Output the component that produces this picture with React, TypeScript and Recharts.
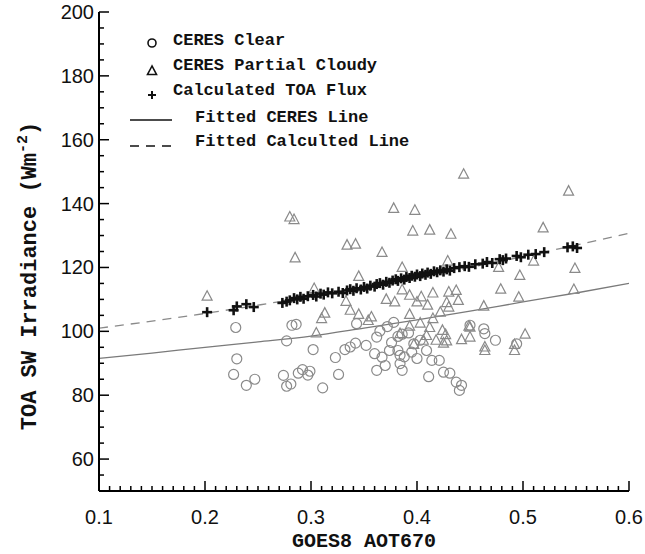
import { ComposedChart, Scatter, Line, XAxis, YAxis } from "recharts";

// CERES clear-sky points [AOT670, flux]
const clearPts: [number, number][] = [
  [0.229, 101.2], [0.230, 91.4], [0.227, 86.5], [0.239, 83.1], [0.247, 85.0],
  [0.277, 97.0], [0.282, 101.9], [0.286, 102.2], [0.274, 86.2], [0.277, 82.8],
  [0.281, 83.5], [0.288, 86.9], [0.292, 88.0], [0.299, 87.5], [0.297, 86.3],
  [0.302, 94.3], [0.311, 82.3], [0.323, 91.8], [0.326, 86.5], [0.332, 94.3],
  [0.337, 95.1], [0.342, 96.3], [0.343, 102.4], [0.352, 95.6], [0.362, 98.2],
  [0.365, 100.1], [0.360, 93.0], [0.367, 91.9], [0.362, 87.8], [0.370, 89.3],
  [0.382, 98.4], [0.386, 99.1], [0.382, 94.0], [0.384, 92.5], [0.384, 89.9],
  [0.386, 87.8], [0.397, 96.1], [0.403, 97.2], [0.409, 94.0], [0.414, 90.9],
  [0.421, 90.9], [0.411, 85.8], [0.425, 87.2], [0.431, 86.9], [0.437, 84.1],
  [0.442, 83.1], [0.440, 81.5], [0.463, 100.8], [0.464, 99.3], [0.474, 97.2],
  [0.494, 96.1], [0.450, 101.9], [0.374, 94.0], [0.388, 92.0], [0.395, 93.5],
  [0.400, 91.5], [0.376, 96.5], [0.392, 99.5], [0.372, 101.5], [0.378, 102.8],
];

// CERES partly cloudy points
const cloudyPts: [number, number][] = [
  [0.202, 111.0], [0.280, 135.8], [0.284, 135.0], [0.285, 123.0], [0.334, 127.0],
  [0.342, 127.3], [0.345, 117.2], [0.333, 109.4], [0.337, 106.6], [0.345, 105.3],
  [0.354, 103.4], [0.357, 104.5], [0.313, 105.7], [0.310, 104.0], [0.305, 99.5],
  [0.303, 113.4], [0.444, 149.2], [0.543, 143.9], [0.378, 138.5], [0.398, 137.9],
  [0.396, 131.4], [0.412, 131.7], [0.432, 130.4], [0.519, 132.4], [0.367, 124.7],
  [0.386, 120.0], [0.429, 122.0], [0.510, 122.0], [0.549, 119.7], [0.477, 120.0],
  [0.497, 117.5], [0.479, 113.2], [0.548, 113.1], [0.496, 110.7], [0.463, 107.9],
  [0.371, 110.0], [0.379, 109.2], [0.393, 111.3], [0.404, 110.8], [0.415, 112.0],
  [0.430, 112.3], [0.437, 112.8], [0.439, 109.7], [0.393, 105.3], [0.400, 109.2],
  [0.410, 108.2], [0.415, 104.0], [0.422, 106.0], [0.428, 109.0], [0.393, 101.6],
  [0.403, 102.6], [0.412, 101.2], [0.424, 100.3], [0.427, 99.0], [0.502, 99.1],
  [0.450, 101.3], [0.425, 96.3], [0.449, 101.6], [0.450, 98.2], [0.442, 97.4],
  [0.464, 95.1], [0.464, 94.0], [0.492, 95.9], [0.492, 94.0], [0.384, 99.3],
  [0.397, 95.9], [0.409, 98.7], [0.406, 97.2], [0.418, 97.2], [0.428, 97.0],
  [0.430, 107.6], [0.386, 113.0],
];

// calculated TOA flux
const calcPts: [number, number][] = [
  [0.202, 106.0], [0.227, 106.6], [0.230, 107.8], [0.239, 108.5], [0.246, 107.6],
  [0.273, 108.9], [0.277, 109.3], [0.280, 109.7], [0.284, 110.4], [0.287, 110.0],
  [0.290, 110.8], [0.293, 110.2], [0.297, 111.0], [0.302, 111.4], [0.305, 110.9],
  [0.309, 111.8], [0.312, 111.5], [0.316, 112.2], [0.320, 111.9], [0.326, 112.4],
  [0.330, 112.0], [0.334, 112.8], [0.337, 113.2], [0.340, 112.7], [0.343, 113.5],
  [0.347, 113.1], [0.350, 113.9], [0.353, 113.4], [0.356, 114.3], [0.360, 114.0],
  [0.362, 114.8], [0.365, 115.1], [0.368, 114.6], [0.371, 115.5], [0.374, 115.2],
  [0.377, 115.9], [0.380, 116.3], [0.382, 115.8], [0.385, 116.6], [0.388, 116.2],
  [0.390, 117.0], [0.393, 116.7], [0.395, 117.4], [0.398, 117.1], [0.400, 117.8],
  [0.403, 117.3], [0.405, 118.1], [0.408, 117.7], [0.410, 118.4], [0.413, 118.0],
  [0.416, 118.8], [0.419, 118.5], [0.422, 119.1], [0.425, 118.7], [0.428, 119.4],
  [0.431, 119.0], [0.435, 119.8], [0.440, 120.1], [0.445, 120.4], [0.449, 120.2],
  [0.455, 121.0], [0.462, 121.2], [0.466, 121.7], [0.471, 121.4], [0.478, 122.6],
  [0.481, 122.3], [0.484, 122.8], [0.494, 123.6], [0.498, 123.2], [0.505, 124.0],
  [0.512, 124.2], [0.520, 124.8], [0.542, 126.3], [0.547, 126.6], [0.551, 126.1],
];

// fitted curves, read every 0.05
const fitX = [0.1, 0.15, 0.2, 0.25, 0.3, 0.35, 0.4, 0.45, 0.5, 0.55, 0.6];
const ceresFit = [91.5, 93.2, 95.0, 96.7, 98.5, 101.0, 103.6, 106.3, 109.2, 112.0, 115.0];
const calcFit = [101.0, 103.2, 105.6, 108.2, 110.9, 113.8, 116.8, 120.0, 123.4, 127.0, 130.7];

const xTickLabels = ["0.1", "0.2", "0.3", "0.4", "0.5", "0.6"];
const yTickLabels = ["60", "80", "100", "120", "140", "160", "180", "200"];

const toObj = (pts: [number, number][]) => pts.map(([x, y]) => ({ x, y }));
const ceresLine = fitX.map((x, i) => ({ x, y: ceresFit[i] }));
const calcLine = fitX.map((x, i) => ({ x, y: calcFit[i] }));

const xTicks = Array.from({ length: 51 }, (_, i) => (10 + i) / 100);
const yTicks = Array.from({ length: 31 }, (_, i) => 50 + i * 5);

const TICK_FONT = "'Liberation Sans', Arial, sans-serif";
const MONO = "'Liberation Mono', 'DejaVu Sans Mono', monospace";
const MAJOR = 10;
const MINOR = 5;

const isMajorX = (v: number) => Math.abs(v * 10 - Math.round(v * 10)) < 1e-6;
const isMajorY = (v: number) => v % 20 === 0;

const BottomTick = ({ x, y, payload }: any) => {
  const v = payload.value;
  const major = isMajorX(v);
  const label = v.toFixed(1);
  return (
    <g>
      <line x1={x} y1={y} x2={x} y2={y - (major ? MAJOR : MINOR)} stroke="#000" strokeWidth={1.5} />
      {major && xTickLabels.includes(label) && (
        <text x={x} y={y + 33} textAnchor="middle" fontFamily={TICK_FONT} fontSize={20} fill="#111">
          {label}
        </text>
      )}
    </g>
  );
};

const TopTick = ({ x, y, payload }: any) => {
  const major = isMajorX(payload.value);
  return <line x1={x} y1={y} x2={x} y2={y + (major ? MAJOR : MINOR)} stroke="#000" strokeWidth={1.5} />;
};

const LeftTick = ({ x, y, payload }: any) => {
  const v = payload.value;
  const major = isMajorY(v);
  const label = String(v);
  return (
    <g>
      <line x1={x} y1={y} x2={x + (major ? MAJOR : MINOR)} y2={y} stroke="#000" strokeWidth={1.5} />
      {major && yTickLabels.includes(label) && (
        <text x={x - 5} y={y + 7} textAnchor="end" fontFamily={TICK_FONT} fontSize={20} fill="#111">
          {label}
        </text>
      )}
    </g>
  );
};

const RightTick = ({ x, y, payload }: any) => {
  const major = isMajorY(payload.value);
  return <line x1={x} y1={y} x2={x - (major ? MAJOR : MINOR)} y2={y} stroke="#000" strokeWidth={1.5} />;
};

const Circle = ({ cx, cy }: any) => (
  <circle cx={cx} cy={cy} r={5} fill="none" stroke="#8a8a8a" strokeWidth={1.2} />
);

const Triangle = ({ cx, cy }: any) => (
  <polygon
    points={`${cx},${cy - 5.5} ${cx - 5},${cy + 4} ${cx + 5},${cy + 4}`}
    fill="none"
    stroke="#8a8a8a"
    strokeWidth={1.2}
  />
);

const Plus = ({ cx, cy }: any) => (
  <g stroke="#111" strokeWidth={2.6}>
    <line x1={cx - 5} y1={cy} x2={cx + 5} y2={cy} />
    <line x1={cx} y1={cy - 5} x2={cx} y2={cy + 5} />
  </g>
);

const axisLine = { stroke: "#000", strokeWidth: 2 };

export default function App() {
  return (
    <div style={{ position: "absolute", left: 0, top: 0, width: 645, height: 554, background: "#fff" }}>
      <ComposedChart width={645} height={554} margin={{ top: 12, right: 16, bottom: 23, left: 0 }}>
        <XAxis
          dataKey="x"
          type="number"
          domain={[0.1, 0.6]}
          ticks={xTicks}
          interval={0}
          tickSize={0}
          tickMargin={0}
          height={40}
          axisLine={axisLine}
          tickLine={false}
          tick={BottomTick}
          allowDataOverflow
        />
        <XAxis
          xAxisId="top"
          orientation="top"
          type="number"
          domain={[0.1, 0.6]}
          ticks={xTicks}
          interval={0}
          tickSize={0}
          tickMargin={0}
          height={0}
          axisLine={axisLine}
          tickLine={false}
          tick={TopTick}
          allowDataOverflow
        />
        <YAxis
          dataKey="y"
          type="number"
          domain={[50, 200]}
          ticks={yTicks}
          interval={0}
          tickSize={0}
          tickMargin={0}
          width={99}
          axisLine={axisLine}
          tickLine={false}
          tick={LeftTick}
          allowDataOverflow
        />
        <YAxis
          yAxisId="right"
          orientation="right"
          type="number"
          domain={[50, 200]}
          ticks={yTicks}
          interval={0}
          tickSize={0}
          tickMargin={0}
          width={0}
          axisLine={axisLine}
          tickLine={false}
          tick={RightTick}
          allowDataOverflow
        />
        <Line
          data={ceresLine}
          dataKey="y"
          type="monotone"
          stroke="#7a7a7a"
          strokeWidth={1.3}
          dot={false}
          isAnimationActive={false}
        />
        <Line
          data={calcLine}
          dataKey="y"
          type="monotone"
          stroke="#8a8a8a"
          strokeWidth={1.3}
          strokeDasharray="9 7"
          dot={false}
          isAnimationActive={false}
        />
        <Scatter data={toObj(clearPts)} dataKey="y" shape={Circle} isAnimationActive={false} />
        <Scatter data={toObj(cloudyPts)} dataKey="y" shape={Triangle} isAnimationActive={false} />
        <Scatter data={toObj(calcPts)} dataKey="y" shape={Plus} isAnimationActive={false} />
      </ComposedChart>

      <svg
        width={645}
        height={554}
        style={{ position: "absolute", left: 0, top: 0, pointerEvents: "none" }}
      >
        <g fontFamily={MONO} fontWeight="bold" fontSize={17} fill="#111">
          <circle cx={152} cy={43} r={4} fill="none" stroke="#111" strokeWidth={1.6} />
          <text x={173} y={45}>CERES Clear</text>
          <polygon points="152,66 147.5,74.5 156.5,74.5" fill="none" stroke="#111" strokeWidth={1.6} />
          <text x={173} y={70}>CERES Partial Cloudy</text>
          <g stroke="#111" strokeWidth={2}>
            <line x1={148} y1={95} x2={156} y2={95} />
            <line x1={152} y1={91} x2={152} y2={99} />
          </g>
          <text x={173} y={95}>Calculated TOA Flux</text>
          <line x1={130} y1={120} x2={172} y2={120} stroke="#111" strokeWidth={1.6} />
          <text x={195} y={122}>Fitted CERES Line</text>
          <line x1={130} y1={146} x2={172} y2={146} stroke="#111" strokeWidth={1.6} strokeDasharray="9 7" />
          <text x={195} y={146}>Fitted Calculted Line</text>
        </g>
        <text x={364} y={547} textAnchor="middle" fontFamily={MONO} fontWeight="bold" fontSize={20} fill="#111">
          GOES8 AOT670
        </text>
        <text
          transform="translate(36,276) rotate(-90)"
          textAnchor="middle"
          fontFamily={MONO}
          fontWeight="bold"
          fontSize={22}
          fill="#111"
        >
          TOA SW Irradiance (Wm<tspan dy={-9} fontSize={15}>-2</tspan>
          <tspan dy={9}>)</tspan>
        </text>
      </svg>
    </div>
  );
}
